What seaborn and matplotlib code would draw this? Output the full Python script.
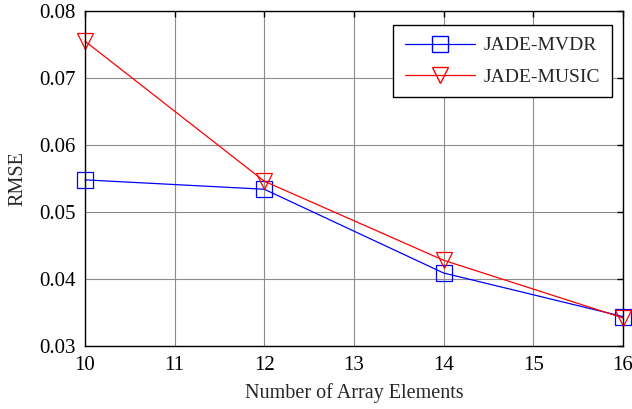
import matplotlib
matplotlib.use("Agg")
import matplotlib.pyplot as plt
import seaborn as sns
import pandas as pd
from matplotlib.lines import Line2D

elements = [10, 12, 14, 16]
mvdr = [0.0548, 0.0534, 0.0409, 0.0344]
music = [0.0755, 0.0546, 0.0428, 0.0342]
series_names = ["JADE-MVDR", "JADE-MUSIC"]

df = pd.concat([
    pd.DataFrame({"x": elements, "y": mvdr, "method": series_names[0]}),
    pd.DataFrame({"x": elements, "y": music, "method": series_names[1]}),
])

sns.set_theme(style="white")
plt.rcParams["font.family"] = ["Liberation Serif", "DejaVu Serif"]

fig = plt.figure(figsize=(6.32, 4.09), dpi=100)
ax = fig.add_axes([0.1345, 0.154, 0.851, 0.819])

sns.lineplot(data=df, x="x", y="y", hue="method", style="method",
             palette={"JADE-MVDR": "blue", "JADE-MUSIC": "red"},
             markers={"JADE-MVDR": "s", "JADE-MUSIC": "v"},
             dashes=False, markersize=11,
             linewidth=0.9, ax=ax, legend=False)
for line, c in zip(ax.lines, ["blue", "red"]):
    line.set_markerfacecolor("none")
    line.set_markeredgecolor(c)
    line.set_markeredgewidth(0.9)
    line.set_clip_on(False)

ax.set_xlim(10, 16)
ax.set_ylim(0.03, 0.08)
ax.set_xticks(range(10, 17))
ax.set_yticks([0.03, 0.04, 0.05, 0.06, 0.07, 0.08])
ax.set_yticklabels(["0.03", "0.04", "0.05", "0.06", "0.07", "0.08"])
ax.grid(True, color="#8c8c8c", linewidth=0.8, linestyle="-")
ax.tick_params(direction="in", length=4, width=1, top=True, right=True,
               labelsize=15, colors="black", pad=7)
for s in ax.spines.values():
    s.set_color("black")
    s.set_linewidth(1.0)
ax.set_xlabel("Number of Array Elements", fontsize=14.5, labelpad=6)
ax.set_ylabel("RMSE", fontsize=14.5, labelpad=8)

handles = [
    Line2D([], [], color="blue", marker="s", markerfacecolor="none", markersize=11, linewidth=0.9),
    Line2D([], [], color="red", marker="v", markerfacecolor="none", markersize=11, linewidth=0.9),
]
leg = ax.legend(handles, series_names, loc="upper right", fontsize=14,
                frameon=True, fancybox=False, edgecolor="black",
                framealpha=1, handlelength=3.6, borderpad=0.6,
                labelspacing=0.7, handletextpad=0.45, borderaxespad=0,
                bbox_to_anchor=(0.9796, 0.958))
leg.get_frame().set_linewidth(1.0)

fig.savefig("out.png", dpi=100)
